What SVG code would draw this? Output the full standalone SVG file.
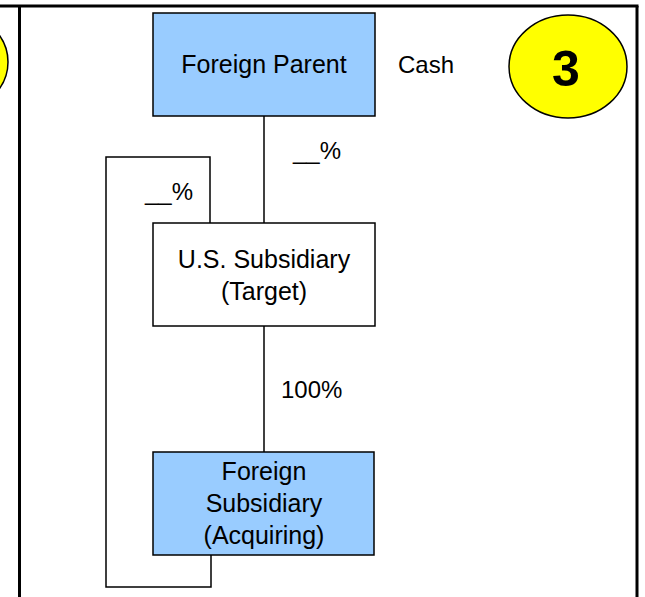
<svg xmlns="http://www.w3.org/2000/svg" width="645" height="597" viewBox="0 0 645 597">
<style>
.box{stroke:#000;stroke-width:1.5}
.blue{fill:#99CCFF}
.white{fill:#fff}
.t{font-family:"Liberation Sans",Arial,sans-serif;font-size:25px;fill:#000;text-anchor:middle}
.l{font-family:"Liberation Sans",Arial,sans-serif;font-size:24px;fill:#000}
.c{fill:none;stroke:#000;stroke-width:1.5}
.frame{fill:none;stroke:#000;stroke-width:3}
.badge{fill:#FFFF00;stroke:#000;stroke-width:1.5}
</style>
<rect width="645" height="597" fill="#fff"/>
<g id="frame">
<line class="frame" x1="0" y1="6" x2="638.5" y2="6"/>
<line class="frame" x1="19.5" y1="6" x2="19.5" y2="597"/>
<line class="frame" x1="637" y1="6" x2="637" y2="597"/>
</g>
<g id="badge-left">
<ellipse class="badge" cx="-51" cy="62" rx="59" ry="51"/>
</g>
<g id="connectors">
<line class="c" x1="264" y1="116" x2="264" y2="223"/>
<line class="c" x1="264" y1="326" x2="264" y2="452"/>
<polyline class="c" points="210,223 210,157 106,157 106,587 211,587 211,555"/>
</g>
<g id="foreign-parent">
<rect class="box blue" x="153" y="13" width="222" height="103"/>
<text class="t" x="264" y="73">Foreign Parent</text>
</g>
<g id="us-subsidiary">
<rect class="box white" x="153" y="223" width="222" height="103"/>
<text class="t" x="264" y="268">U.S. Subsidiary</text>
<text class="t" x="264" y="300">(Target)</text>
</g>
<g id="foreign-subsidiary">
<rect class="box blue" x="153" y="452" width="221" height="103"/>
<text class="t" x="264" y="480">Foreign</text>
<text class="t" x="264" y="512">Subsidiary</text>
<text class="t" x="264" y="544">(Acquiring)</text>
</g>
<g id="labels">
<text class="l" x="398" y="73">Cash</text>
<text class="l" x="293" y="159">__%</text>
<text class="l" x="145" y="200">__%</text>
<text class="l" x="281" y="398">100%</text>
</g>
<g id="badge-3">
<ellipse class="badge" cx="568" cy="66.5" rx="59" ry="51.5"/>
<text x="566" y="86" font-family="'Liberation Sans',Arial,sans-serif" font-size="50" font-weight="bold" text-anchor="middle" fill="#000">3</text>
</g>
</svg>
